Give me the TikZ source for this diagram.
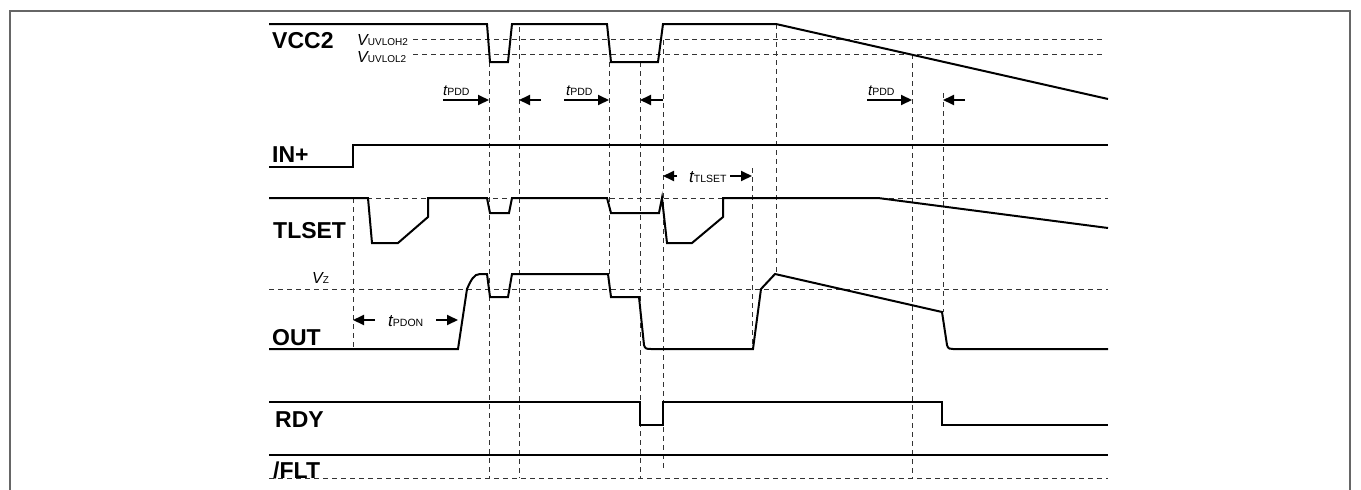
\documentclass[tikz,border=0pt]{standalone}
\usepackage{fontspec}
\setmainfont{Liberation Sans}
\usetikzlibrary{arrows.meta}
\newcommand\myV[1]{{\fontsize{16}{16}\selectfont\itshape V}{\fontsize{10}{10}\selectfont #1}}
\newcommand\myT[2]{{\fontsize{#1}{#1}\selectfont\itshape t}{\fontsize{10.5}{10.5}\selectfont #2}}
\begin{document}
\begin{tikzpicture}[x=1pt,y=-1pt,
  sig/.style={line width=2pt, line join=miter},
  guide/.style={line width=1pt, draw=black!80, dash pattern=on 5pt off 4pt},
  frameline/.style={line width=1.5pt, draw=black!60},
  tarrow/.style={line width=2pt, -{Triangle[length=11pt,width=10pt]}},
  biglab/.style={anchor=base west, inner sep=0pt, font=\fontsize{23}{23}\selectfont\bfseries},
  smlab/.style={anchor=base west, inner sep=0pt}
]
\useasboundingbox (0,0) rectangle (1361,490);
% frame
\draw[frameline] (10,490) -- (10,11) -- (1350,11) -- (1350,490);
% horizontal guides
\draw[guide] (413,39) -- (1103,39);
\draw[guide] (413,54) -- (1103,54);
\draw[guide] (367,198) -- (1108,198);
\draw[guide] (269,289) -- (1108,289);
\draw[guide] (269,478) -- (1108,478);
% vertical guides
\draw[guide] (353,198) -- (353,349);
\draw[guide] (489,62) -- (489,478);
\draw[guide] (519,27) -- (519,478);
\draw[guide] (609,62) -- (609,274);
\draw[guide] (640,62) -- (640,478);
\draw[guide] (663,40) -- (663,470);
\draw[guide] (752,168) -- (752,349);
\draw[guide] (776,24) -- (776,274);
\draw[guide] (912,54) -- (912,478);
\draw[guide] (943,93) -- (943,312);
% signals
\draw[sig] (269,24) -- (487,24) -- (490,62) -- (508,62) -- (512,24) -- (607,24) -- (611,62) -- (658,62) -- (663,24) -- (776,24) -- (1108,99);
\draw[sig] (269,167) -- (353,167) -- (353,145) -- (1108,145);
\draw[sig] (269,198) -- (368,198) -- (372,243) -- (398,243) -- (428,217) -- (428,198) -- (487,198) -- (490,213) -- (509,213) -- (512,198) -- (607,198) -- (611,213) -- (659,213) -- (662,198) -- (667,243) -- (692,243) -- (723,217) -- (723,198) -- (878,198) -- (1108,228);
\draw[sig] (269,349) -- (458,349) -- (467,289) .. controls (471,280) and (474,274) .. (480,274) -- (487,274) -- (490,297) -- (508,297) -- (512,274) -- (608,274) -- (611,297) -- (639,297) -- (644,345) .. controls (645,349) and (647,349) .. (651,349) -- (753,349) -- (761,289) -- (775,274) -- (942,312) -- (947,345) .. controls (948,349) and (950,349) .. (953,349) -- (1108,349);
\draw[sig] (269,402) -- (640,402) -- (640,425) -- (663,425) -- (663,402) -- (942,402) -- (942,425) -- (1108,425);
\draw[sig] (269,455) -- (1108,455);
% timing arrows
\draw[tarrow] (443,100) -- (489,100);
\draw[tarrow] (541,100) -- (519,100);
\draw[tarrow] (564,100) -- (609,100);
\draw[tarrow] (663,100) -- (640,100);
\draw[tarrow] (867,100) -- (912,100);
\draw[tarrow] (965,100) -- (943,100);
\draw[tarrow] (677,176) -- (663,176);
\draw[tarrow] (730,176) -- (752,176);
\draw[tarrow] (375,320) -- (353,320);
\draw[tarrow] (436,320) -- (458,320);
% labels
\node[biglab] (lvcc) at (272,48) {VCC2};
\node[biglab] (lin) at (272,162) {IN+};
\node[biglab] (ltl) at (273,238) {TLSET};
\node[biglab] (lout) at (272,345) {OUT};
\node[biglab] (lrdy) at (275,427) {RDY};
\node[biglab] (lflt) at (273,478) {/FLT};
\node[smlab] (luvh) at (357,45) {\myV{UVLOH2}};
\node[smlab] (luvl) at (357,62) {\myV{UVLOL2}};
\node[smlab] (lvz) at (312,283) {\myV{Z}};
\node[smlab] (lpdd1) at (443,95) {\myT{15}{PDD}};
\node[smlab] (lpdd2) at (566,95) {\myT{15}{PDD}};
\node[smlab] (lpdd3) at (868,95) {\myT{15}{PDD}};
\node[smlab] (ltls) at (689,182) {\myT{17}{TLSET}};
\node[smlab] (lpdon) at (388,326) {\myT{17}{PDON}};
\end{tikzpicture}
\end{document}
